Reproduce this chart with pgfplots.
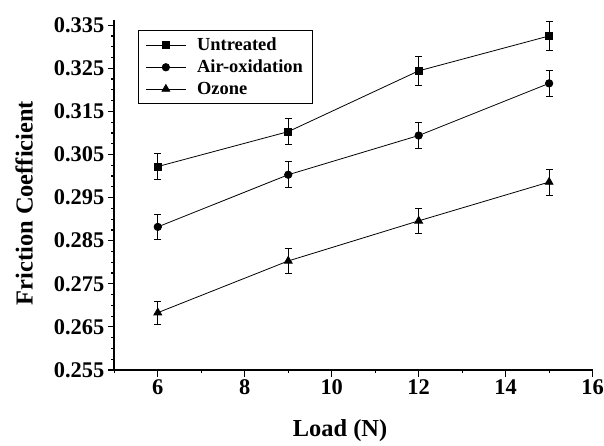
\documentclass[border=0pt]{standalone}
\usepackage{pgfplots}
\pgfplotsset{compat=1.18}
\usepackage{fontspec}
\setmainfont{Liberation Serif}
\begin{document}
\begin{tikzpicture}
\useasboundingbox (-114.3bp,-76bp) rectangle (489.7bp,370bp);
\begin{axis}[
  scale only axis,
  width=478.3bp, height=350bp,
  xmin=5, xmax=16, ymin=0.255, ymax=0.3362,
  axis lines*=left,
  axis line style={line width=1.8bp},
  tick align=outside,
  major tick length=6.5bp, minor tick length=3.2bp,
  every tick/.style={black, line width=1.2bp},
  xtick={6,8,10,12,14,16},
  minor xtick={5,7,9,11,13,15},
  ytick={0.255,0.265,0.275,0.285,0.295,0.305,0.315,0.325,0.335},
  minor y tick num=3,
  /pgf/number format/assume math mode=true,
  yticklabel style={/pgf/number format/.cd, fixed, precision=3, fixed zerofill},
  ticklabel style={font=\bfseries\fontsize{22.5}{26}\selectfont},
  every axis x label/.style={at={(axis description cs:0.472,-0.191)}, anchor=base, inner sep=0pt},
  every axis y label/.style={at={(axis description cs:-0.170,0.477)}, rotate=90, anchor=south, inner sep=0pt},
  label style={font=\bfseries\fontsize{24.5}{28}\selectfont},
  xlabel={Load (N)},
  ylabel={Friction Coefficient},
  legend style={at={(axis description cs:0.050,0.971)}, anchor=north west, draw=black, line width=0.8bp,
    font=\bfseries\fontsize{18.5}{21}\selectfont, inner xsep=7bp, inner ysep=5.5bp, row sep=3.8bp, column sep=9bp,
    nodes={inner sep=2bp}},
  legend cell align=left,
  legend image code/.code={\draw[black, line width=0.8bp, mark repeat=2, mark phase=2] plot coordinates {(0cm,0cm)(0.7cm,0cm)(1.4cm,0cm)};},
  error bars/y dir=both, error bars/y explicit,
  error bars/error mark options={black, line width=0.8bp, mark size=3.5bp, rotate=90},
  error bars/error bar style={black, line width=0.8bp},
]
\addplot[black, line width=0.8bp, mark=square*, mark size=3.6bp, mark options={solid, fill=black}] coordinates {
  (6,0.3022) +- (0,0.003)
  (9,0.3103) +- (0,0.003)
  (12,0.3244) +- (0,0.0033)
  (15,0.3325) +- (0,0.0034)
};
\addlegendentry{Untreated}
\addplot[black, line width=0.8bp, mark=*, mark size=3.7bp, mark options={solid, fill=black}] coordinates {
  (6,0.2882) +- (0,0.0029)
  (9,0.3003) +- (0,0.003)
  (12,0.3094) +- (0,0.003)
  (15,0.3215) +- (0,0.003)
};
\addlegendentry{Air-oxidation\hspace{6bp}}
\addplot[black, line width=0.8bp, mark=triangle*, mark size=4.5bp, mark options={solid, fill=black}] coordinates {
  (6,0.2683) +- (0,0.0027)
  (9,0.2803) +- (0,0.0028)
  (12,0.2896) +- (0,0.003)
  (15,0.2986) +- (0,0.003)
};
\addlegendentry{Ozone}
\end{axis}
\end{tikzpicture}
\end{document}
